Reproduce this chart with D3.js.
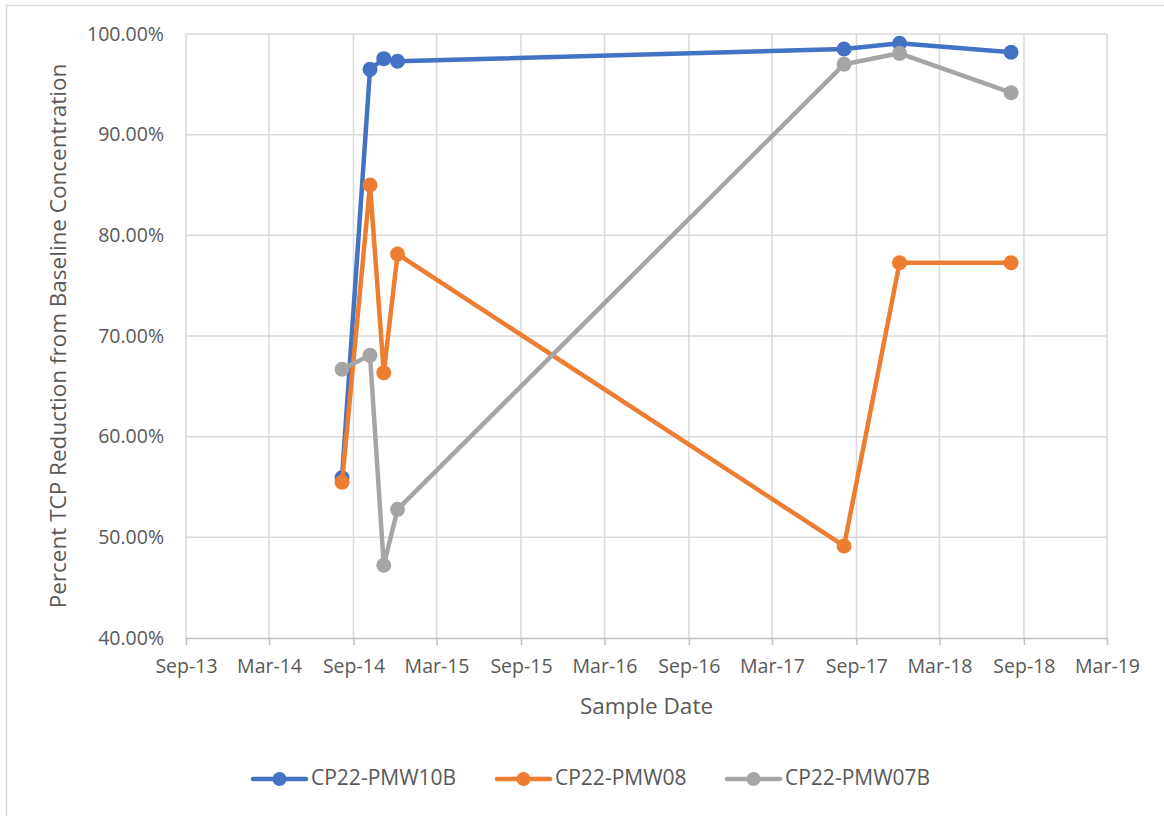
<!DOCTYPE html>
<html>
<head>
<meta charset="utf-8">
<script src="https://cdn.jsdelivr.net/npm/d3@7"></script>
<style>
  html, body { margin: 0; padding: 0; background: #ffffff; }
  svg { display: block; }
  text { font-family: "Open Sans", "Noto Sans", sans-serif; fill: #595959; }
</style>
</head>
<body>
<svg id="chart" width="1164" height="816"></svg>
<script>
// Sampling dates shared by all three wells
const sampleDates = ["2014-08-07", "2014-10-07", "2014-11-06", "2014-12-06",
                     "2017-08-05", "2017-12-04", "2018-08-04"];

// Percent TCP reduction from baseline, per well
const pmw10b = [0.5592, 0.9649, 0.9755, 0.9729, 0.9851, 0.9907, 0.9818];
const pmw08  = [0.5547, 0.8500, 0.6635, 0.7814, 0.4914, 0.7728, 0.7728];
const pmw07b = [0.6669, 0.6808, 0.4722, 0.5278, 0.9699, 0.9808, 0.9417];

const seriesNames  = ["CP22-PMW10B", "CP22-PMW08", "CP22-PMW07B"];
const seriesColors = ["#4472C4", "#ED7D31", "#A5A5A5"];

const xTickLabels = ["Sep-13", "Mar-14", "Sep-14", "Mar-15", "Sep-15", "Mar-16",
                     "Sep-16", "Mar-17", "Sep-17", "Mar-18", "Sep-18", "Mar-19"];
const yTicks = [0.4, 0.5, 0.6, 0.7, 0.8, 0.9, 1.0];

const parseDay = d3.timeParse("%Y-%m-%d");
const parseTick = d3.timeParse("%b-%y");
const dates = sampleDates.map(parseDay);
const tickDates = xTickLabels.map(parseTick);

const series = [pmw10b, pmw08, pmw07b].map((vals, i) => ({
  name: seriesNames[i],
  color: seriesColors[i],
  points: vals.map((v, j) => ({ date: dates[j], value: v }))
}));

const svg = d3.select("#chart");
const plot = { left: 186, right: 1107, top: 34, bottom: 638 };

// outer chart frame
svg.append("rect")
  .attr("x", 6.5).attr("y", 5.5)
  .attr("width", 1200).attr("height", 900)
  .attr("fill", "none").attr("stroke", "#d9d9d9").attr("stroke-width", 1.5);

const x = d3.scaleTime()
  .domain([tickDates[0], tickDates[tickDates.length - 1]])
  .range([plot.left, plot.right]);
const y = d3.scaleLinear().domain([0.4, 1.0]).range([plot.bottom, plot.top]);

// horizontal gridlines
svg.append("g")
  .selectAll("line")
  .data(yTicks.slice(1))
  .join("line")
  .attr("x1", plot.left).attr("x2", plot.right)
  .attr("y1", d => y(d)).attr("y2", d => y(d))
  .attr("stroke", "#d9d9d9").attr("stroke-width", 1.5);

// vertical gridlines
svg.append("g")
  .selectAll("line")
  .data(tickDates)
  .join("line")
  .attr("x1", d => x(d)).attr("x2", d => x(d))
  .attr("y1", plot.top).attr("y2", plot.bottom)
  .attr("stroke", "#d9d9d9").attr("stroke-width", 1.5);

// x axis with outward ticks
const xAxis = d3.axisBottom(x)
  .tickValues(tickDates)
  .tickFormat(d3.timeFormat("%b-%y"))
  .tickSizeInner(7).tickSizeOuter(0).tickPadding(14);
const gx = svg.append("g")
  .attr("transform", `translate(0,${plot.bottom})`)
  .call(xAxis);
gx.select(".domain").attr("stroke", "#bfbfbf").attr("stroke-width", 1.5);
gx.selectAll(".tick line").attr("stroke", "#bfbfbf").attr("stroke-width", 1.5);
gx.selectAll(".tick text")
  .attr("font-size", 19.5).attr("fill", "#595959")
  .attr("font-family", "'Open Sans', sans-serif");

// y axis labels only
const yAxis = d3.axisLeft(y)
  .tickValues(yTicks)
  .tickFormat(d3.format(".2%"))
  .tickSize(0).tickPadding(22);
const gy = svg.append("g")
  .attr("transform", `translate(${plot.left},0)`)
  .call(yAxis);
gy.select(".domain").remove();
gy.selectAll(".tick text")
  .attr("font-size", 19.5).attr("fill", "#595959")
  .attr("font-family", "'Open Sans', sans-serif");

// axis titles
svg.append("text")
  .attr("x", (plot.left + plot.right) / 2).attr("y", 708)
  .attr("text-anchor", "middle").attr("dominant-baseline", "middle")
  .attr("font-size", 22.5)
  .text("Sample Date");

svg.append("text")
  .attr("transform", `translate(60,${(plot.top + plot.bottom) / 2}) rotate(-90)`)
  .attr("text-anchor", "middle").attr("dominant-baseline", "middle")
  .attr("font-size", 22.5)
  .text("Percent TCP Reduction from Baseline Concentration");

// series lines and markers
const line = d3.line().x(d => x(d.date)).y(d => y(d.value));
series.forEach(s => {
  const g = svg.append("g");
  g.append("path")
    .attr("d", line(s.points))
    .attr("fill", "none")
    .attr("stroke", s.color)
    .attr("stroke-width", 4.5)
    .attr("stroke-linejoin", "round");
  g.selectAll("circle")
    .data(s.points)
    .join("circle")
    .attr("cx", d => x(d.date)).attr("cy", d => y(d.value))
    .attr("r", 7.5)
    .attr("fill", s.color);
});

// legend
const legendX = [253, 497, 727];
const legend = svg.append("g");
series.forEach((s, i) => {
  const lg = legend.append("g").attr("transform", `translate(${legendX[i]},779)`);
  lg.append("line")
    .attr("x1", 0).attr("x2", 53).attr("y1", 0).attr("y2", 0)
    .attr("stroke", s.color).attr("stroke-width", 4.5).attr("stroke-linecap", "round");
  lg.append("circle").attr("cx", 26.5).attr("cy", 0).attr("r", 7).attr("fill", s.color);
  lg.append("text")
    .attr("x", 58).attr("y", 0)
    .attr("dominant-baseline", "middle")
    .attr("font-size", 21)
    .text(s.name);
});
</script>
</body>
</html>
